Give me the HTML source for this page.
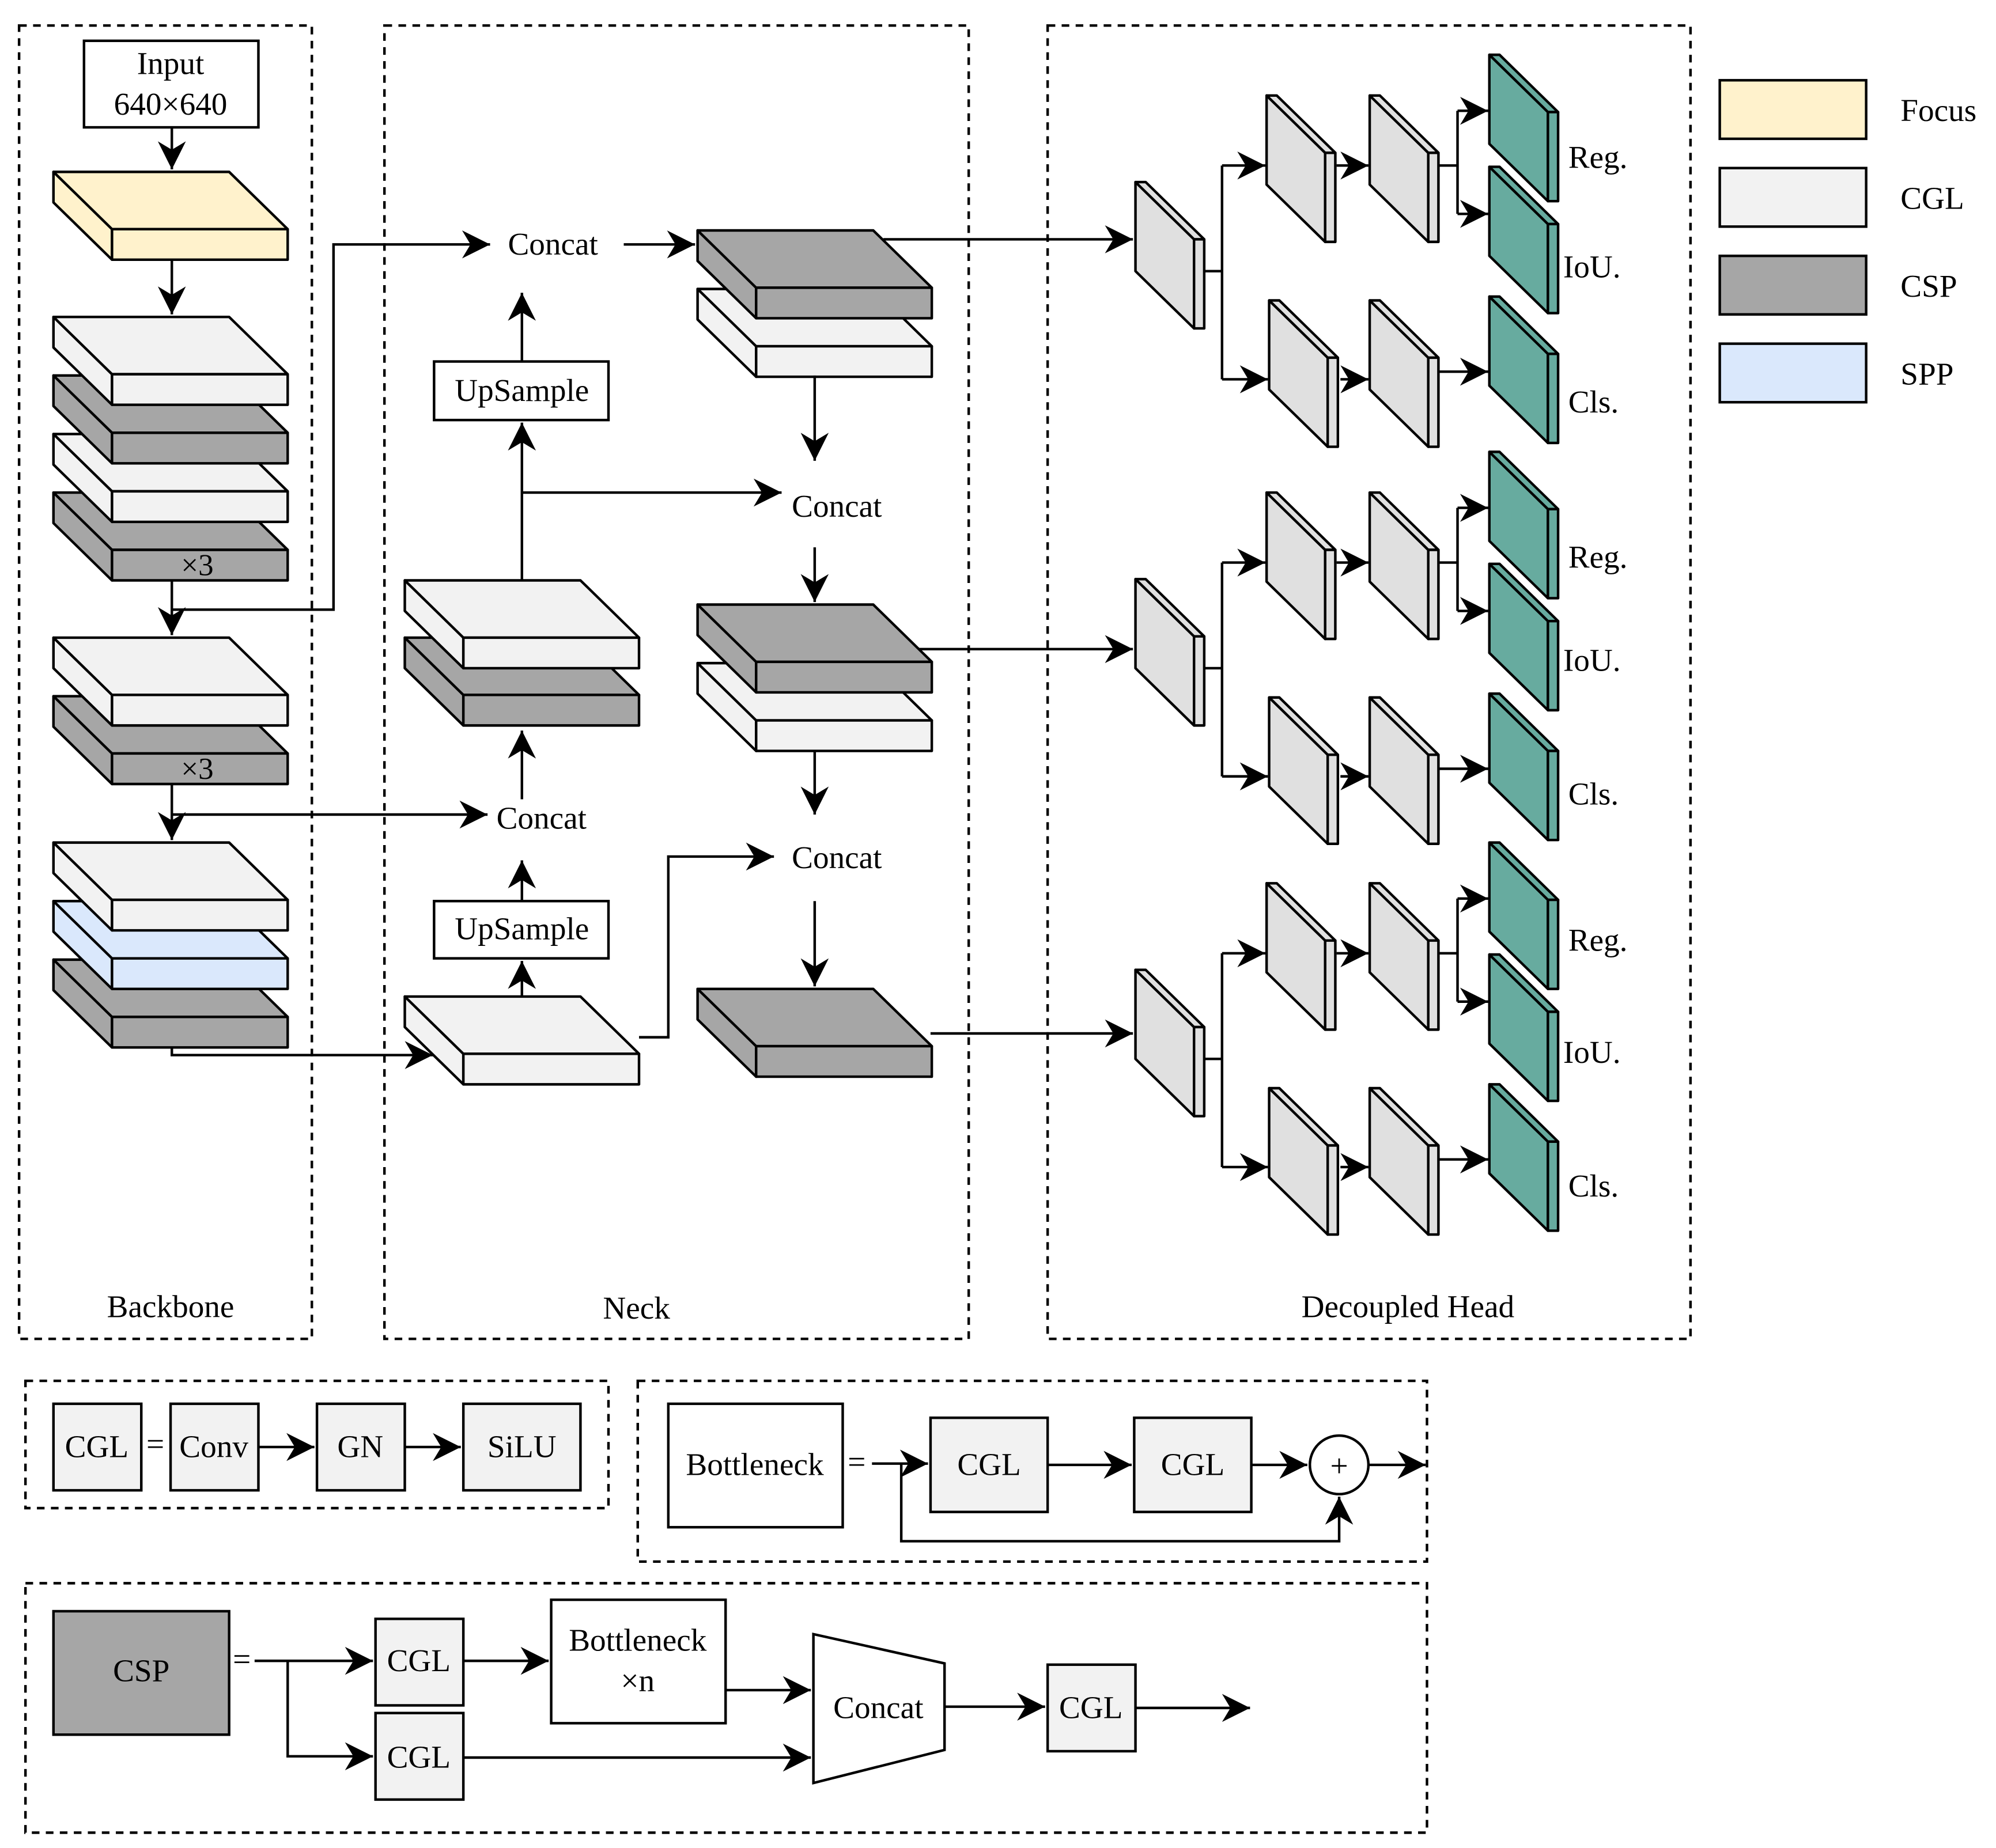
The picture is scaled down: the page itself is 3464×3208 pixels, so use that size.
<!DOCTYPE html>
<html><head><meta charset="utf-8"><style>html,body{margin:0;padding:0;background:#fff}svg{display:block}text{font-family:"Liberation Serif",serif;fill:#000}</style></head><body>
<svg width="3464" height="3208" viewBox="0 0 1568 1452" xmlns="http://www.w3.org/2000/svg">
<defs>
<marker id="b" viewBox="0 0 10 10" refX="10" refY="5" markerWidth="22" markerHeight="22" orient="auto" markerUnits="userSpaceOnUse"><path d="M0,0L10,5L0,10L3,5z" fill="#000"/></marker>
</defs>
<g fill="#fff" stroke="#000" stroke-width="2" stroke-dasharray="6,5">
<rect x="15" y="20" width="230" height="1032"/>
<rect x="302" y="20" width="459" height="1032"/>
<rect x="823" y="20" width="505" height="1032"/>
<rect x="20" y="1085" width="458" height="100"/>
<rect x="501" y="1085" width="620" height="142"/>
<rect x="20" y="1244" width="1101" height="196"/>
</g>
<g font-size="25" text-anchor="middle">
<text x="134" y="1035">Backbone</text><text x="500" y="1036">Neck</text><text x="1106" y="1035">Decoupled Head</text>
</g>
<g id="slabs" stroke="#000" stroke-width="2" stroke-linejoin="round"></g>
<script>
var s=document.getElementById('slabs'),ns='http://www.w3.org/2000/svg';
function poly(pts,f,p){var e=document.createElementNS(ns,'polygon');e.setAttribute('points',pts);e.setAttribute('fill',f);(p||s).appendChild(e);}
function slab(x,y,f){poly([x,y,x+46,y+45,x+46,y+69,x,y+24].join(','),f);poly([x,y,x+138,y,x+184,y+45,x+46,y+45].join(','),f);poly([x+46,y+45,x+184,y+45,x+184,y+69,x+46,y+69].join(','),f);}
function vb(x,y,f){poly([x,y,x+46,y+45,x+46,y+115,x,y+70].join(','),f);poly([x,y,x+8,y,x+54,y+45,x+46,y+45].join(','),f);poly([x+46,y+45,x+54,y+45,x+54,y+115,x+46,y+115].join(','),f);}
var F='#fff2cc',C='#f2f2f2',P='#a6a6a6',S='#dae8fc',G='#67ab9f',H='#e0e0e0';
slab(42,135,F);
slab(42,387,P);slab(42,341,C);slab(42,295,P);slab(42,249,C);
slab(42,547,P);slab(42,501,C);
slab(42,754,P);slab(42,708,S);slab(42,662,C);
slab(318,501,P);slab(318,456,C);
slab(548,227,C);slab(548,181,P);
slab(548,521,C);slab(548,475,P);slab(548,777,P);slab(318,783,C);
[0,312,619].forEach(function(o){vb(892,143+o,H);vb(995,75+o,H);vb(1076,75+o,H);vb(997,236+o,H);vb(1076,236+o,H);vb(1170,43+o,G);vb(1170,131+o,G);vb(1170,233+o,G);});
</script>
<g font-size="24" text-anchor="middle">
<text x="155" y="452">×3</text><text x="155" y="612">×3</text>
</g>
<g stroke="#000" stroke-width="2" fill="none" marker-end="url(#b)">
<path d="M135,100V133"/><path d="M135,204V247"/><path d="M135,456V499"/><path d="M135,479H262V192H385"/>
<path d="M135,616V660"/><path d="M135,640H383"/><path d="M135,823V829H340"/>
<path d="M410,783V755"/><path d="M410,708V676"/><path d="M410,628V574"/><path d="M410,456V332"/><path d="M410,284V230"/>
<path d="M410,387H614"/><path d="M490,192H546"/><path d="M640,295V362"/><path d="M640,430V473"/><path d="M640,590V640"/><path d="M640,708V775"/>
<path d="M502,815H525V673H608"/>
<path d="M694,188H890"/><path d="M722,510H890"/><path d="M731,812H890"/>
</g>
<g stroke="#000" stroke-width="2" fill="none" id="harr"></g>
<script>
var h=document.getElementById('harr');
function ln(d){var e=document.createElementNS(ns,'path');e.setAttribute('d',d);e.setAttribute('marker-end','url(#b)');h.appendChild(e);}
function pl(d){var e=document.createElementNS(ns,'path');e.setAttribute('d',d);h.appendChild(e);}
[0,312,619].forEach(function(o){pl('M946,'+(213+o)+'H960');pl('M960,'+(130+o)+'V'+(298+o));ln('M960,'+(130+o)+'H994');ln('M960,'+(298+o)+'H996');
ln('M1050,'+(130+o)+'H1075');pl('M1130,'+(130+o)+'H1145');pl('M1145,'+(87+o)+'V'+(168+o));ln('M1145,'+(87+o)+'H1169');ln('M1145,'+(168+o)+'H1169');
ln('M1053,'+(298+o)+'H1075');ln('M1130,'+(292+o)+'H1169');});
</script>
<g font-size="25">
<text x="1232" y="132">Reg.</text><text x="1228" y="218">IoU.</text><text x="1232" y="324">Cls.</text>
<text x="1232" y="446">Reg.</text><text x="1228" y="527">IoU.</text><text x="1232" y="632">Cls.</text>
<text x="1232" y="747">Reg.</text><text x="1228" y="835">IoU.</text><text x="1232" y="940">Cls.</text>
<text x="399" y="200">Concat</text><text x="622" y="406">Concat</text><text x="390" y="651">Concat</text><text x="622" y="682">Concat</text>
</g>
<g stroke="#000" stroke-width="2">
<rect x="66" y="32" width="137" height="68" fill="#fff"/>
<rect x="341" y="284" width="137" height="46" fill="#fff"/>
<rect x="341" y="708" width="137" height="45" fill="#fff"/>
<rect x="1351" y="63" width="115" height="46" fill="#fff2cc"/>
<rect x="1351" y="132" width="115" height="46" fill="#f2f2f2"/>
<rect x="1351" y="201" width="115" height="46" fill="#a6a6a6"/>
<rect x="1351" y="270" width="115" height="46" fill="#dae8fc"/>
</g>
<g font-size="25" text-anchor="middle">
<text x="134" y="58">Input</text><text x="134" y="90">640×640</text>
<text x="410" y="315">UpSample</text><text x="410" y="738">UpSample</text>
</g>
<g font-size="25"><text x="1493" y="95">Focus</text><text x="1493" y="164">CGL</text><text x="1493" y="233">CSP</text><text x="1493" y="302">SPP</text></g>
<g stroke="#000" stroke-width="2">
<rect x="42" y="1103" width="69" height="68" fill="#f2f2f2"/><rect x="134" y="1103" width="69" height="68" fill="#f2f2f2"/>
<rect x="249" y="1103" width="69" height="68" fill="#f2f2f2"/><rect x="364" y="1103" width="92" height="68" fill="#f2f2f2"/>
<rect x="525" y="1103" width="137" height="97" fill="#fff"/>
<rect x="731" y="1114" width="92" height="74" fill="#f2f2f2"/><rect x="891" y="1114" width="92" height="74" fill="#f2f2f2"/>
<circle cx="1052" cy="1151" r="23" fill="#fff"/>
<rect x="42" y="1266" width="138" height="97" fill="#a6a6a6"/>
<rect x="295" y="1272" width="69" height="68" fill="#f2f2f2"/><rect x="295" y="1346" width="69" height="68" fill="#f2f2f2"/>
<rect x="433" y="1257" width="137" height="97" fill="#fff"/>
<polygon points="639,1284 742,1307 742,1375 639,1401" fill="#fff"/>
<rect x="823" y="1308" width="69" height="68" fill="#f2f2f2"/>
</g>
<g stroke="#000" stroke-width="2" fill="none" marker-end="url(#b)">
<path d="M203,1137H247"/><path d="M318,1137H362"/>
<path d="M685,1150H729"/><path d="M823,1151H889"/><path d="M983,1151H1027"/><path d="M1075,1151H1120"/>
<path d="M708,1150V1211H1052V1176"/>
<path d="M200,1305H293"/><path d="M226,1305V1380H293"/><path d="M364,1305H431"/><path d="M570,1328H637"/>
<path d="M364,1381H637"/><path d="M742,1341H821"/><path d="M892,1342H982"/>
</g>
<g font-size="25" text-anchor="middle">
<text x="76" y="1145">CGL</text><text x="122" y="1143">=</text><text x="168" y="1145">Conv</text><text x="283" y="1145">GN</text><text x="410" y="1145">SiLU</text>
<text x="593" y="1159">Bottleneck</text><text x="673" y="1157">=</text><text x="777" y="1159">CGL</text><text x="937" y="1159">CGL</text><text x="1052" y="1160">+</text>
<text x="111" y="1321" fill="#333">CSP</text><text x="190" y="1312">=</text><text x="329" y="1313">CGL</text><text x="329" y="1389">CGL</text>
<text x="501" y="1297">Bottleneck</text><text x="501" y="1329">×n</text><text x="690" y="1350">Concat</text><text x="857" y="1350">CGL</text>
</g>
</svg>
</body></html>
